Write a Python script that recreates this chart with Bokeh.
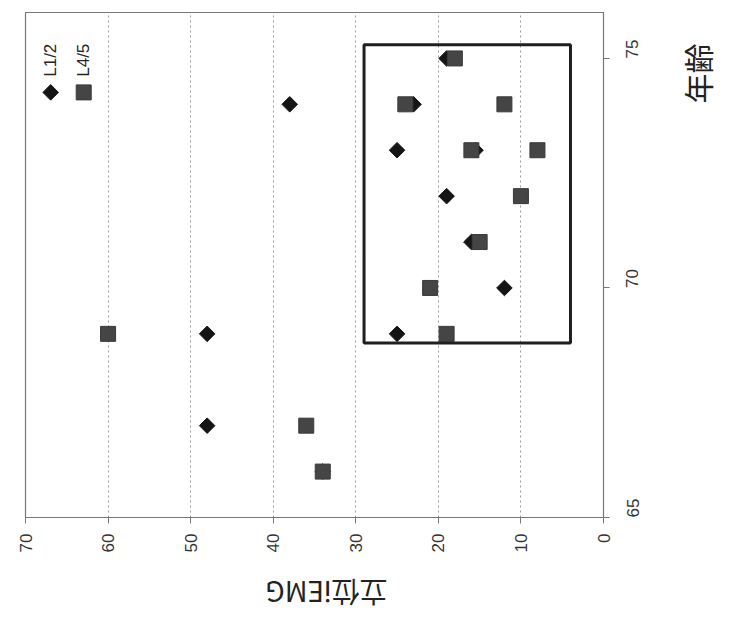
import math
from bokeh.plotting import figure
from bokeh.layouts import row, column
from bokeh.models import Range1d, FixedTicker, Label, Rect
from bokeh.embed import file_html
from bokeh.resources import INLINE

# Data: (age, standing iEMG)
l12_age = [66, 67, 69, 69, 70, 71, 72, 73, 73, 74, 74, 75]
l12_emg = [34, 48, 48, 25, 12, 16, 19, 25, 15.5, 38, 23, 19]
l45_age = [66, 67, 69, 69, 70, 71, 72, 73, 73, 74, 74, 75]
l45_emg = [34, 36, 60, 19, 21, 15, 10, 16, 8, 24, 12, 18]
emg_ticks = [0, 10, 20, 30, 40, 50, 60, 70]
age_ticks = [65, 70, 75]
box_emg = [4, 29]
box_age = [68.8, 75.3]
x_title = "立位iEMG"
y_title = "年齢"

p = figure(width=660, height=560, output_backend="svg", toolbar_location=None,
           x_range=Range1d(70, 0), y_range=Range1d(65, 76),
           y_axis_location="right",
           min_border_left=25, min_border_right=57, min_border_top=12, min_border_bottom=43)
p.background_fill_color = "white"
p.border_fill_color = "white"
p.outline_line_color = "#777777"
p.outline_line_width = 1.2

# grid
p.xgrid.ticker = FixedTicker(ticks=emg_ticks[1:-1])
p.xgrid.grid_line_color = "#9a9a9a"
p.xgrid.grid_line_dash = "2 3"
p.xgrid.grid_line_width = 1
p.ygrid.grid_line_color = None

for ax in (p.xaxis[0], p.yaxis[0]):
    ax.axis_line_color = "#777777"
    ax.major_tick_line_color = "#777777"
    ax.major_tick_in = 0
    ax.major_tick_out = 6
    ax.minor_tick_line_color = None
    ax.major_label_text_font = "Liberation Sans"
    ax.major_label_text_font_size = "17px"
    ax.major_label_text_color = "#333333"
    ax.major_label_orientation = math.pi / 2

p.xaxis[0].ticker = FixedTicker(ticks=emg_ticks)
p.xaxis[0].major_label_standoff = 10
p.yaxis[0].ticker = FixedTicker(ticks=age_ticks)
p.yaxis[0].major_label_standoff = 23

# points (L4/5 squares drawn over L1/2 diamonds)
p.scatter(l12_emg, l12_age, marker="square", angle=math.pi / 4, size=11,
          fill_color="#151515", line_color="#151515")
p.scatter(l45_emg, l45_age, marker="square", size=15, fill_color="#454545", line_color="#3a3a3a")

# highlight box
p.add_glyph(Rect(x=(box_emg[0] + box_emg[1]) / 2, y=(box_age[0] + box_age[1]) / 2,
                 width=box_emg[1] - box_emg[0], height=box_age[1] - box_age[0],
                 fill_color=None, line_color="#1f1f1f", line_width=3))

# legend (rotated)
p.scatter([66.95], [74.26], marker="square", angle=math.pi / 4, size=11,
          fill_color="#151515", line_color="#151515")
p.scatter([62.95], [74.26], marker="square", size=15, fill_color="#454545", line_color="#3a3a3a")
p.add_layout(Label(x=66.95, y=74.6, text="L1/2", angle=math.pi / 2, text_align="left",
                   text_baseline="middle", text_font="Liberation Sans",
                   text_font_size="17px", text_color="#222222"))
p.add_layout(Label(x=62.95, y=74.6, text="L4/5", angle=math.pi / 2, text_align="left",
                   text_baseline="middle", text_font="Liberation Sans",
                   text_font_size="17px", text_color="#222222"))


def blank(w, h):
    f = figure(width=w, height=h, output_backend="svg", toolbar_location=None,
               x_range=Range1d(0, 1), y_range=Range1d(0, 1),
               x_axis_location=None, y_axis_location=None, min_border=0)
    f.outline_line_color = None
    f.grid.grid_line_color = None
    f.background_fill_color = "white"
    f.border_fill_color = "white"
    return f


# side panel with the (rotated) age title; its frame is aligned with the main frame
side = blank(59, 560)
side.add_layout(Label(x=36, y=444, x_units="screen", y_units="screen", text=y_title,
                      angle=math.pi / 2, text_align="center", text_baseline="middle",
                      text_font="Noto Sans CJK JP", text_font_size="30px", text_color="#222222"))

# bottom panel with the (upside-down) iEMG title
bottom = blank(719, 53)
bottom.add_layout(Label(x=326, y=21, x_units="screen", y_units="screen", text=x_title,
                        angle=math.pi, text_align="center", text_baseline="middle",
                        text_font="Noto Sans CJK JP", text_font_size="28px", text_color="#222222"))

layout = column(row(p, side, spacing=0), bottom, spacing=0)
open("out.html", "w").write(file_html(layout, INLINE))
